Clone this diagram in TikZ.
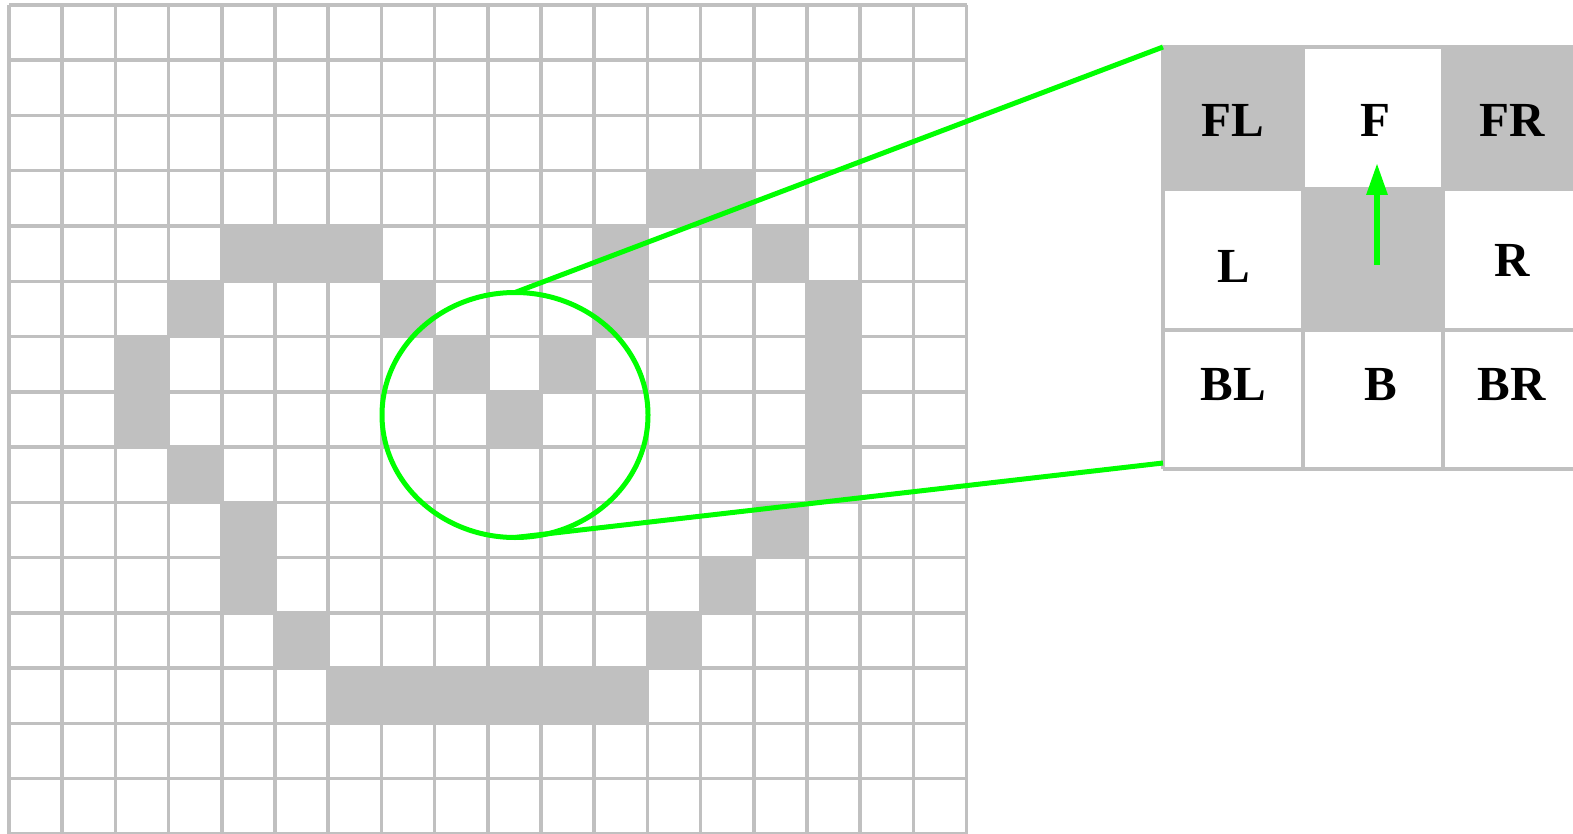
\documentclass[tikz,border=0pt]{standalone}
\usepackage{fontspec}
\setmainfont{Liberation Serif}
\usetikzlibrary{shapes.geometric,arrows.meta}
\definecolor{cellgray}{HTML}{C0C0C0}
\definecolor{lensgreen}{HTML}{00FF00}
\tikzset{
  gridline/.style={draw=cellgray, line width=1.75pt},
  panelline/.style={draw=cellgray, line width=2pt},
  graycell/.style={fill=cellgray},
  lens/.style={ellipse, draw=lensgreen, line width=2.5pt, inner sep=0pt, outer sep=0pt},
  lensline/.style={draw=lensgreen, line width=2.5pt},
  heading/.style={draw=lensgreen, line width=3pt, -{Triangle[length=16pt,width=10pt]}},
  dirlabel/.style={font=\fontsize{24.5pt}{28pt}\selectfont\bfseries, anchor=base, inner sep=0pt}
}
\begin{document}
\begin{tikzpicture}[x=0.5pt,y=-0.5pt]
\useasboundingbox (0,0) rectangle (1573,834);
\clip (0,0) rectangle (1573,834);
% left map: occupied cells
\foreach \c/\r in {12/3,13/3,
  4/4,5/4,6/4,11/4,14/4,
  3/5,7/5,11/5,15/5,
  2/6,8/6,10/6,15/6,
  2/7,9/7,15/7,
  3/8,15/8,
  4/9,14/9,
  4/10,13/10,
  5/11,12/11,
  6/12,7/12,8/12,9/12,10/12,11/12}
  \fill[graycell] ({9+53.2*\c},{5+55.25*\r}) rectangle ({9+53.2*(\c+1)},{5+55.25*(\r+1)});
% left map: grid lines
\foreach \c in {0,...,18}
  \draw[gridline] ({9+53.2*\c},5) -- ({9+53.2*\c},833.75);
\foreach \r in {0,...,15}
  \draw[gridline] (9,{5+55.25*\r}) -- (966.6,{5+55.25*\r});
% right panel: cells
\fill[graycell] (1163,47) rectangle (1303,189);
\fill[graycell] (1443,47) rectangle (1583,189);
\fill[graycell] (1303,189) rectangle (1443,330);
\foreach \x in {1163,1303,1443}
  \draw[panelline] (\x,47) -- (\x,469);
\foreach \y in {47,189,330,469}
  \draw[panelline] (1163,\y) -- (1583,\y);
% labels
\node[dirlabel] (fl) at (1233,137) {FL};
\node[dirlabel] (f)  at (1375,137) {F};
\node[dirlabel] (fr) at (1512,137) {FR};
\node[dirlabel] (l)  at (1234,282) {L};
\node[dirlabel] (r)  at (1512,277) {R};
\node[dirlabel] (bl) at (1233,400) {BL};
\node[dirlabel] (b)  at (1381,400) {B};
\node[dirlabel] (br) at (1512,400) {BR};
% heading arrow
\coordinate (arrowtail) at (1377,265);
\coordinate (arrowtip) at (1377,163);
\draw[heading] (arrowtail) -- (arrowtip);
% lens and connectors
\node[lens, minimum width=133pt, minimum height=122.5pt] (lensnode) at (515,415) {};
\coordinate (paneltl) at (1163,47);
\coordinate (panelbl) at (1163,463);
\draw[lensline] (lensnode.north) -- (paneltl);
\draw[lensline] (lensnode.south) -- (panelbl);
\end{tikzpicture}
\end{document}
